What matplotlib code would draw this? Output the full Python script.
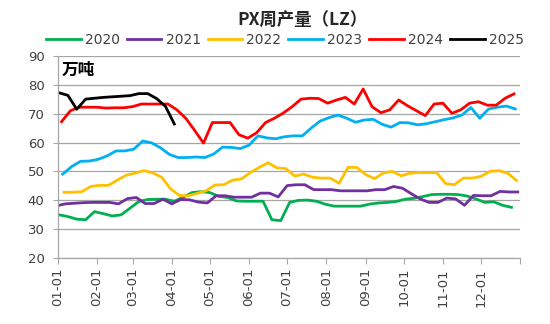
"""
PX weekly output (LZ) by year, weekly points over a Jan-Dec date axis.

Writes out.png (550x324).
"""

from __future__ import annotations

import matplotlib

matplotlib.use("Agg")
import matplotlib.pyplot as plt
import numpy as np
import pandas as pd

CJK = ["Noto Sans CJK SC", "DejaVu Sans"]

TITLE = "PX周产量（LZ）"
UNIT = "万吨"

MONTH_LABELS = ["01-01", "02-01", "03-01", "04-01", "05-01", "06-01",
                "07-01", "08-01", "09-01", "10-01", "11-01", "12-01"]

YEARS = ["2020", "2021", "2022", "2023", "2024", "2025"]
COLORS = ["#00B050", "#7030A0", "#FFC000", "#00B0F0", "#FF0000", "#000000"]
# first weekly date of each series (2021 begins on the last Thursday of 2020)
START_DATES = ["2020-01-02", "2020-12-31", "2022-01-06", "2023-01-05", "2024-01-04", "2025-01-02"]

Y2020 = [35.0, 34.4, 33.5, 33.3, 36.1, 35.4, 34.6, 35.0, 37.3, 39.6,
         40.3, 40.4, 40.4, 39.7, 41.1, 42.7, 43.0, 42.7, 41.4, 41.0,
         39.8, 39.7, 39.7, 39.7, 33.3, 33.0, 39.3, 40.0, 40.1, 39.7,
         38.7, 38.0, 38.0, 38.0, 38.0, 38.7, 39.1, 39.3, 39.6, 40.4,
         40.7, 41.3, 42.0, 42.1, 42.1, 42.0, 41.5, 40.5, 39.3, 39.5,
         38.3, 37.6]
Y2021 = [38.1, 38.8, 39.0, 39.2, 39.3, 39.3, 39.3, 38.8, 40.6, 41.0,
         38.9, 38.9, 40.4, 38.8, 40.3, 40.2, 39.4, 39.1, 41.6, 41.6,
         41.1, 41.1, 41.1, 42.5, 42.5, 41.2, 45.1, 45.4, 45.4, 43.7,
         43.7, 43.7, 43.3, 43.3, 43.3, 43.3, 43.7, 43.7, 44.8, 44.2,
         42.3, 40.5, 39.3, 39.3, 40.8, 40.5, 38.3, 41.7, 41.6, 41.6,
         43.1, 42.9, 42.9]
Y2022 = [42.8, 42.8, 43.0, 44.8, 45.2, 45.2, 47.0, 48.7, 49.4, 50.3,
         49.5, 48.0, 44.0, 41.7, 41.6, 42.4, 43.3, 45.3, 45.4, 47.0,
         47.4, 49.6, 51.4, 53.0, 51.2, 51.0, 48.4, 49.1, 48.0, 47.7,
         47.7, 45.9, 51.4, 51.4, 48.9, 47.5, 49.5, 50.0, 48.5, 49.4,
         49.6, 49.6, 49.6, 45.8, 45.4, 47.7, 47.7, 48.3, 50.0, 50.3,
         49.4, 46.9]
Y2023 = [49.1, 51.7, 53.5, 53.6, 54.2, 55.4, 57.1, 57.1, 57.7, 60.5,
         59.9, 58.2, 55.9, 54.8, 54.8, 55.0, 54.8, 56.0, 58.4, 58.3,
         57.9, 59.1, 62.3, 61.6, 61.3, 62.0, 62.3, 62.3, 65.0, 67.4,
         68.6, 69.5, 68.4, 67.0, 67.8, 68.0, 66.3, 65.3, 66.9, 66.8,
         66.1, 66.5, 67.2, 67.9, 68.5, 69.5, 72.1, 68.4, 71.6, 72.2,
         72.6, 71.6]
Y2024 = [67.2, 71.0, 72.2, 72.2, 72.2, 71.9, 72.0, 72.0, 72.4, 73.3,
         73.3, 73.3, 73.3, 71.3, 68.4, 64.2, 59.8, 66.9, 66.9, 66.9,
         62.7, 61.5, 63.4, 66.9, 68.4, 70.2, 72.4, 75.0, 75.3, 75.2,
         73.6, 74.7, 75.6, 73.3, 78.5, 72.4, 70.3, 71.3, 74.7, 72.7,
         71.0, 69.3, 73.3, 73.6, 70.1, 71.3, 73.6, 74.1, 72.9, 72.9,
         75.3, 76.8]
Y2025 = [77.2, 76.3, 71.5, 75.0, 75.3, 75.6, 75.8, 76.0, 76.2, 76.9,
         76.9, 75.2, 72.5, 66.4]

SERIES = [Y2020, Y2021, Y2022, Y2023, Y2024, Y2025]


def day_positions(start: str, year: str, n: int) -> np.ndarray:
    dates = pd.date_range(start, periods=n, freq="7D")
    return np.asarray((dates - pd.Timestamp(f"{year}-01-01")).days, dtype=float)


def main() -> None:
    fig = plt.figure(figsize=(5.5, 3.24), dpi=100)
    ax = fig.add_axes([0.105, 0.203, 0.841, 0.625])

    for year, color, start, values in zip(YEARS, COLORS, START_DATES, SERIES):
        x = day_positions(start, year, len(values))
        ax.plot(x, values, color=color, linewidth=2.0, label=year,
                solid_joinstyle="round")

    month_starts = pd.date_range("2023-01-01", periods=13, freq="MS")
    ticks = (month_starts - pd.Timestamp("2023-01-01")).days
    ax.set_xlim(0, 365)
    ax.set_xticks(ticks)
    ax.set_xticklabels(MONTH_LABELS + [""], rotation=90, fontsize=9.5, color="#404040")

    ax.set_ylim(20, 90)
    ax.set_yticks(np.arange(20, 91, 10))
    ax.tick_params(axis="y", labelsize=9.5, colors="#404040", length=3.5,
                   color="#A6A6A6", pad=6)
    ax.tick_params(axis="x", length=4, color="#A6A6A6", pad=3)

    ax.yaxis.grid(True, color="#A6A6A6", linewidth=0.9)
    ax.set_axisbelow(True)
    for side in ("top", "right"):
        ax.spines[side].set_visible(False)
    for side in ("left", "bottom"):
        ax.spines[side].set_color("#A6A6A6")
        ax.spines[side].set_linewidth(0.9)

    ax.text(0.008, 0.975, UNIT, transform=ax.transAxes, ha="left", va="top",
            fontsize=12, fontweight="bold", family=CJK)

    fig.text(0.55, 0.935, TITLE, ha="center", va="center", fontsize=12.5,
             fontweight="bold", family=CJK, color="#262626")

    fig.legend(loc="center", bbox_to_anchor=(0.518, 0.877), ncol=6, frameon=False,
               fontsize=10, handlelength=2.5, handletextpad=0.3, columnspacing=0.5,
               labelcolor="#404040")

    fig.savefig("out.png", dpi=100)
    plt.close(fig)


if __name__ == "__main__":
    main()
